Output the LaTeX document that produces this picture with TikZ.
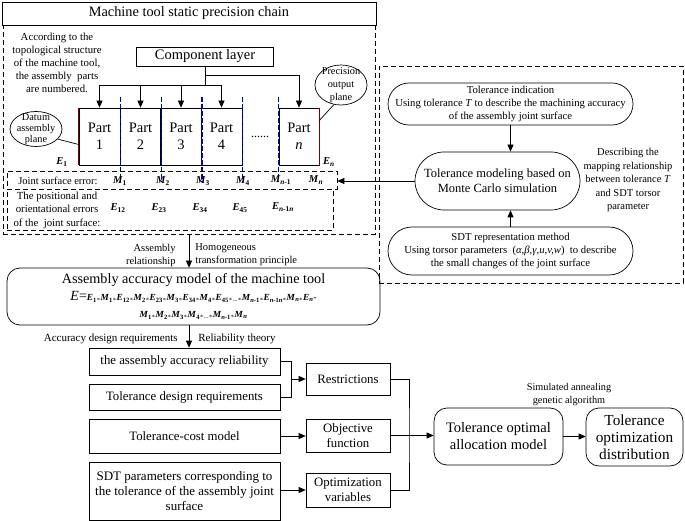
\documentclass[tikz,border=0pt]{standalone}
\usepackage{fontspec}
\setmainfont{Liberation Serif}
\usetikzlibrary{shapes.geometric,arrows.meta}
\newcommand{\ev}[2]{\textbf{\textit{#1}}\textsubscript{\textbf{#2}}}
\newcommand{\mul}{\textsubscript{*}}

\begin{document}
\begin{tikzpicture}[x=1pt,y=-1pt,line width=0.7pt,
  box/.style={draw, rectangle, align=center, inner sep=1pt},
  rbox/.style={draw, rounded corners=13pt, align=center, inner sep=1pt},
  dbox/.style={draw, dash pattern=on 5pt off 3pt, inner sep=0pt},
  bluedash/.style={draw=blue!75!black, line width=1.6pt, dash pattern=on 5pt off 2pt},
  note/.style={font=\fontsize{10.5}{13}\selectfont, align=center, inner sep=0pt},
  arr/.style={-{Triangle[length=7pt,width=6pt]}}
]
  \useasboundingbox (0,0) rectangle (685,521);

  % Machine tool static precision chain
  \node[box, minimum width=374, minimum height=23, font=\fontsize{14.3}{16}\selectfont] (chain) at (189,13.5) {Machine tool static precision chain};
  \node[dbox, minimum width=372, minimum height=209] (chainbox) at (189,129.5) {};
  \node[note, font=\fontsize{10.8}{13}\selectfont] (numbered) at (57,63) {According to the\\topological structure\\of the machine tool,\\the assembly\ \ parts\\are numbered.};
  \node[box, minimum width=137, minimum height=19, font=\fontsize{14.5}{16}\selectfont] (comp) at (205,56.5) {Component layer};

  % Parts
  \foreach \i/\x in {1/99.5, 2/140.5, 3/181, 4/221.5} {
    \node[box, minimum width=41, minimum height=57, font=\fontsize{14.5}{17}\selectfont] (part\i) at (\x,136.5) {Part\\\i};
  }
  \node[box, minimum width=40, minimum height=57, font=\fontsize{14.5}{17}\selectfont] (partn) at (299,136.5) {Part\\\textit{n}};
  \node[font=\fontsize{12}{14}\selectfont] (dots) at (260,137) {......};
  \draw[red!50!black] (part1.north west) -- (part1.south west);
  \draw[red!50!black] (partn.north east) -- (partn.south east);

  % Arrows from the component layer
  \draw (comp.south) -- ++(0,19) coordinate (fork);
  \draw (part1.north |- fork) -- (part4.north |- fork);
  \foreach \i in {1,...,4} {
    \draw[arr] (part\i.north |- fork) -- (part\i.north);
  }
  \draw[arr] ([yshift=-9pt]comp.south) -| (partn.north);

  % Joint surfaces
  \foreach \i in {1,...,4} {
    \draw[bluedash] ([yshift=11pt]part\i.north east) -- ([yshift=-16pt]part\i.south east);
  }
  \draw[bluedash] ([yshift=11pt]partn.north west) -- ([yshift=-16pt]partn.south west);

  % Datum and output planes
  \node[draw, ellipse, minimum width=52, minimum height=35, inner sep=0pt] (datum) at (36,129) {};
  \node[note, font=\fontsize{10.3}{11}\selectfont] (datumtext) at (datum) {Datum\\assembly\\plane};
  \draw (datum.-25) -- ([yshift=-8pt]part1.west);
  \node[draw, ellipse, minimum width=52, minimum height=40, inner sep=0pt] (outp) at (341,85) {};
  \node[note, font=\fontsize{10.3}{13}\selectfont] (outptext) at (outp) {Precision\\output\\plane};
  \draw (outp.250) -- ([yshift=16pt]partn.east);
  \node[font=\fontsize{10.5}{12}\selectfont] (e1) at (62,162) {\ev{E}{1}};
  \node[font=\fontsize{10.5}{12}\selectfont] (en) at (329,162) {\ev{E}{\textit{n}}};

  % Joint surface error
  \node[dbox, minimum width=330, minimum height=18] (joint) at (172,180) {};
  \node[note, anchor=west] (jointtext) at (18,181) {Joint surface error:};
  \foreach \x/\s in {120/1, 163/2, 203/3, 243/4} {
    \node[font=\fontsize{10.5}{12}\selectfont] (m\s) at (\x,181) {\ev{M}{\s}};
  }
  \node[font=\fontsize{10.5}{12}\selectfont] (mn1) at (281,180) {\ev{M}{\textit{n}-1}};
  \node[font=\fontsize{10.5}{12}\selectfont] (mn) at (316,180) {\ev{M}{\textit{n}}};

  % Positional and orientational errors
  \node[dbox, minimum width=326, minimum height=41] (pos) at (170,209.5) {};
  \node[note, font=\fontsize{10.8}{13.5}\selectfont] (postext) at (57,210) {The positional and\\orientational errors\\of the\ \ joint surface:};
  \foreach \x/\s in {118/12, 159/23, 200/34, 240/45} {
    \node[font=\fontsize{10.5}{12}\selectfont] (e\s) at (\x,208) {\ev{E}{\s}};
  }
  \node[font=\fontsize{10.5}{12}\selectfont] (enn) at (283,207) {\ev{E}{\textit{n}-1\textit{n}}};

  % Assembly accuracy model
  \node[rbox, minimum width=373, minimum height=57, font=\fontsize{9.3}{17}\selectfont] (model) at (193.5,296.5) {{\fontsize{14.2}{16}\selectfont Assembly accuracy model of the machine tool}\\
    {\fontsize{14}{16}\selectfont\textit{E}=}\ev{E}{1}\mul\ev{M}{1}\mul\ev{E}{12}\mul\ev{M}{2}\mul\ev{E}{23}\mul\ev{M}{3}\mul\ev{E}{34}\mul\ev{M}{4}\mul\ev{E}{45}\mul\textsubscript{...}\mul\ev{M}{\textit{n}-1}\mul\ev{E}{\textit{n}-1\textit{n}}\mul\ev{M}{\textit{n}}\mul\ev{E}{\textit{n}}\textbf{-}\\
    \ev{M}{1}\mul\ev{M}{2}\mul\ev{M}{3}\mul\ev{M}{4}\mul\textsubscript{...}\mul\ev{M}{\textit{n}-1}\mul\ev{M}{\textit{n}}};
  \draw[arr] (chainbox.south) -- (chainbox.south |- model.north);
  \node[note, align=right, anchor=east] (asmrel) at (176,255) {Assembly\\relationship};
  \node[note, align=left, anchor=west] (homog) at (195,255) {Homogeneous\\transformation principle};

  % Optimization inputs
  \node[box, minimum width=191, minimum height=27, font=\fontsize{12.8}{14}\selectfont] (rel) at (184.5,361.5) {the assembly accuracy reliability};
  \node[box, minimum width=191, minimum height=26, font=\fontsize{12.8}{14}\selectfont] (tdr) at (184.5,397) {Tolerance design requirements};
  \node[box, minimum width=191, minimum height=34, font=\fontsize{12.8}{14}\selectfont] (tcm) at (184.5,436) {Tolerance-cost model};
  \node[box, minimum width=191, minimum height=58, font=\fontsize{13}{15}\selectfont] (sdt) at (184.5,491) {SDT parameters corresponding to\\the tolerance of the assembly joint\\surface};
  \draw[arr] (chainbox.south |- model.south) -- (chainbox.south |- rel.north);
  \node[note, font=\fontsize{11}{13}\selectfont, anchor=east] (accreq) at (178,339) {Accuracy design requirements};
  \node[note, font=\fontsize{11}{13}\selectfont, anchor=west] (relth) at (198,339) {Reliability theory};

  \node[box, minimum width=84, minimum height=32, font=\fontsize{12.8}{15}\selectfont] (restr) at (348,379) {Restrictions};
  \node[box, minimum width=84, minimum height=33, font=\fontsize{12.8}{15}\selectfont] (obj) at (348,435.5) {Objective\\function};
  \node[box, minimum width=84, minimum height=34, font=\fontsize{12.8}{15}\selectfont] (opt) at (348,490) {Optimization\\variables};

  \coordinate (brk) at ([xshift=11pt]rel.east);
  \draw (rel.east) -| (brk) |- (tdr.east);
  \draw[arr] (brk |- restr.west) -- (restr.west);
  \draw[arr] (tcm.east) -- (tcm.east -| obj.west);
  \draw[arr] (sdt.east |- opt.west) -- (opt.west);

  % Allocation
  \node[rbox, minimum width=129, minimum height=57, font=\fontsize{14.5}{17}\selectfont] (alloc) at (498.5,436.5) {Tolerance optimal\\allocation model};
  \node[rbox, minimum width=97, minimum height=58, font=\fontsize{15.3}{17}\selectfont] (dist) at (634.5,437) {Tolerance\\optimization\\distribution};
  \node[note, font=\fontsize{10.3}{12.5}\selectfont] (sa) at (569,394.5) {Simulated annealing\\genetic algorithm};
  \coordinate (mrg) at (409,436);
  \draw (restr.east) -| (mrg) |- (opt.east);
  \draw[arr] (obj.east) -- (obj.east -| alloc.west);
  \draw[arr] (alloc.east) -- (alloc.east -| dist.west);

  % Tolerance modeling
  \node[dbox, minimum width=304, minimum height=217] (sdtbox) at (531,174.5) {};
  \node[draw, rounded corners=21pt, minimum width=245, minimum height=42, note, font=\fontsize{10.7}{13}\selectfont] (tolind) at (510.5,104) {Tolerance indication\\Using tolerance \textit{T} to describe the machining accuracy\\of the assembly joint surface};
  \node[draw, rounded corners=29pt, minimum width=165, minimum height=58, note, font=\fontsize{12.5}{15}\selectfont] (monte) at (497.5,181) {Tolerance modeling based on\\Monte Carlo simulation};
  \node[draw, rounded corners=24pt, minimum width=245, minimum height=48, note, font=\fontsize{10.7}{13}\selectfont] (sdtrep) at (510.5,251) {SDT representation method\\Using torsor parameters \ (\textit{α,β,γ,u,v,w}) \ to describe\\the small changes of the joint surface};
  \node[note, font=\fontsize{10.5}{13.5}\selectfont] (desc) at (628,180) {Describing the\\mapping relationship\\between tolerance \textit{T}\\and SDT torsor\\parameter};
  \draw[arr] (tolind.south) -- (tolind.south |- monte.north);
  \draw[arr] (sdtrep.north) -- (sdtrep.north |- monte.south);
  \draw[arr] (monte.west) -- (joint.east |- monte.west);
\end{tikzpicture}
\end{document}
